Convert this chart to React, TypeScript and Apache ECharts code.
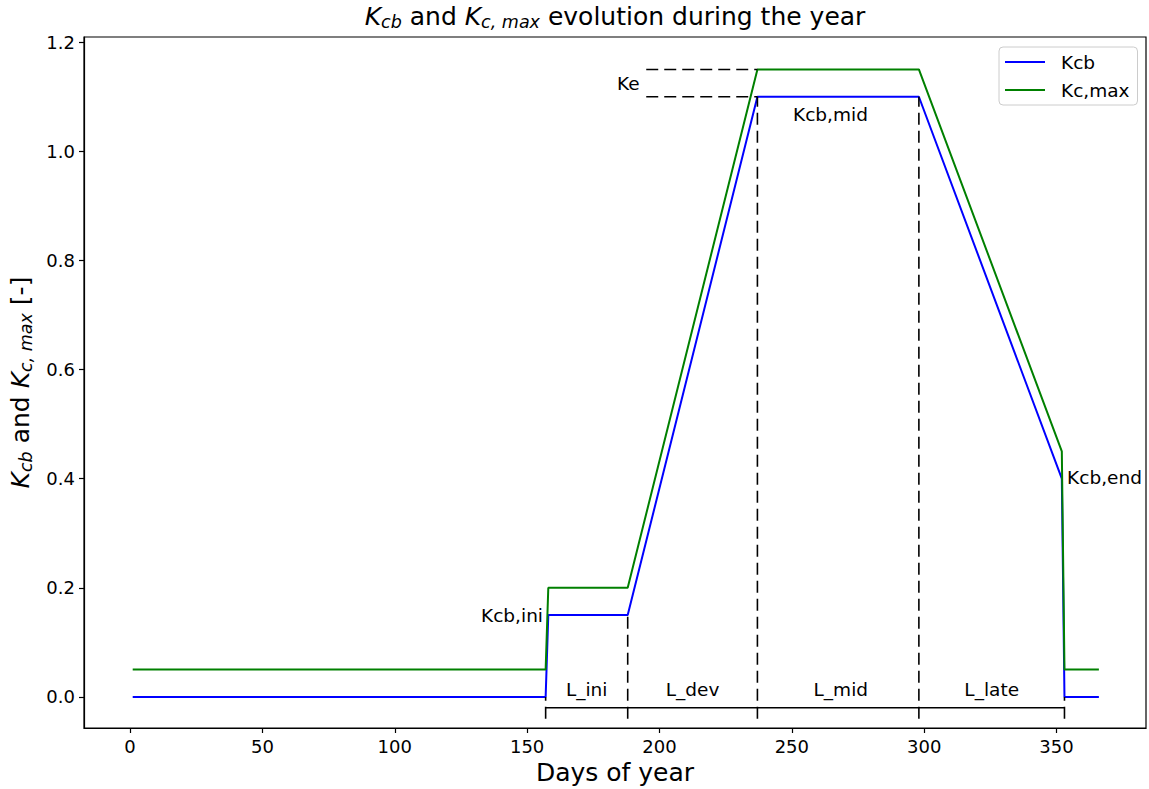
import React, { useEffect, useRef } from "react";
import * as echarts from "echarts";

// ---- data ----
const days = [1, 157, 158, 188, 237, 298, 352, 353, 366];
const kcbValues = [0, 0, 0.15, 0.15, 1.1, 1.1, 0.4, 0, 0];
const kcMaxValues = [0.05, 0.05, 0.2, 0.2, 1.15, 1.15, 0.45, 0.05, 0.05];

const stageDays = [157, 188, 237, 298, 353];
const stageKcb = [0, 0.15, 1.1, 1.1, 0];
const stageNames = ["L_ini", "L_dev", "L_mid", "L_late"];
const stageNameX = [172.5, 212.5, 268.5, 325.5];
const stageNameY = 0.013;
const stageBarY = -0.02;
const stageTickBottom = -0.04;

const keDays = [195, 237];
const keLevels = [1.1, 1.15];

const pointLabels = ["Kcb,ini", "Kcb,mid", "Kcb,end", "Ke"];
const pointLabelX = [156, 264.6, 354, 192.5];
const pointLabelY = [0.15, 1.068, 0.403, 1.125];
const pointLabelPos = ["left", "inside", "right", "left"];

const xTicks = [0, 50, 100, 150, 200, 250, 300, 350];
const yTicks = [0, 0.2, 0.4, 0.6, 0.8, 1.0, 1.2];

const FONT = "DejaVu Sans";

export default function App() {
  const ref = useRef<HTMLDivElement>(null);

  useEffect(() => {
    document.body.style.margin = "0";
    const chart = echarts.init(ref.current!, null, { renderer: "svg" });

    const dashed = { color: "#000", width: 1.6, type: [12, 6] as any };
    const solid = { color: "#000", width: 1.6 };

    const series: any[] = [
      {
        name: "Kcb",
        type: "line",
        data: days.map((d, i) => [d, kcbValues[i]]),
        showSymbol: false,
        lineStyle: { color: "#0000ff", width: 2 },
        itemStyle: { color: "#0000ff" },
        z: 2,
      },
      {
        name: "Kc,max",
        type: "line",
        data: days.map((d, i) => [d, kcMaxValues[i]]),
        showSymbol: false,
        lineStyle: { color: "#008000", width: 2 },
        itemStyle: { color: "#008000" },
        z: 2,
      },
      {
        type: "line",
        data: [
          [stageDays[0], stageBarY],
          [stageDays[stageDays.length - 1], stageBarY],
        ],
        showSymbol: false,
        silent: true,
        lineStyle: solid,
        z: 3,
      },
    ];

    stageDays.forEach((d, i) => {
      series.push({
        type: "line",
        data: [
          [d, stageTickBottom],
          [d, stageKcb[i]],
        ],
        showSymbol: false,
        silent: true,
        lineStyle: dashed,
        z: 3,
      });
    });

    keLevels.forEach((lv) => {
      series.push({
        type: "line",
        data: keDays.map((d) => [d, lv]),
        showSymbol: false,
        silent: true,
        lineStyle: dashed,
        z: 3,
      });
    });

    const textStyle = {
      fontFamily: FONT,
      fontSize: 18.5,
      color: "#000",
      opacity: 1,
      textBorderWidth: 0,
    };

    series.push({
      type: "scatter",
      symbolSize: 0,
      silent: true,
      z: 4,
      itemStyle: { opacity: 1, color: "#000" },
      data: [
        ...pointLabels.map((t, i) => ({
          value: [pointLabelX[i], pointLabelY[i]],
          label: {
            show: true,
            formatter: t,
            position: pointLabelPos[i],
            distance: 0,
            ...textStyle,
          },
        })),
        ...stageNames.map((t, i) => ({
          value: [stageNameX[i], stageNameY],
          label: {
            show: true,
            formatter: t,
            position: "inside",
            ...textStyle,
          },
        })),
      ],
    });

    const mainTok = (size: number) => ({
      fontFamily: FONT,
      fontSize: size,
      color: "#000",
      lineHeight: size * 1.2,
      verticalAlign: "middle",
    });
    const italTok = (size: number) => ({ ...mainTok(size), fontStyle: "italic" });
    const subTok = (size: number) => ({
      fontFamily: FONT,
      fontSize: size * 0.7,
      fontStyle: "italic",
      color: "#000",
      lineHeight: size * 1.2,
      verticalAlign: "middle",
      padding: [size * 0.48, 0, 0, 0],
    });

    const richFor = (size: number) => ({
      t: mainTok(size),
      k: italTok(size),
      s: subTok(size),
    });

    chart.setOption({
      animation: false,
      backgroundColor: "#fff",
      grid: {
        left: 84,
        right: 3,
        top: 37,
        bottom: 61,
        show: true,
        borderColor: "#000",
        borderWidth: 1.2,
        outerBoundsMode: "none",
        containLabel: false,
      },
      graphic: [
        {
          type: "text",
          x: 615,
          y: 16,
          style: {
            text: "{k|K}{s|cb}{t| and }{k|K}{s|c, max}{t| evolution during the year}",
            rich: richFor(25),
            align: "center",
            verticalAlign: "middle",
          },
        },
      ],
      legend: {
        data: ["Kcb", "Kc,max"],
        orient: "vertical",
        left: 999,
        top: 47,
        width: 138,
        padding: [5, 8, 5, 6],
        itemGap: 8,
        itemWidth: 40,
        itemHeight: 2,
        icon: "rect",
        borderColor: "#cccccc",
        borderWidth: 1,
        borderRadius: 4,
        backgroundColor: "#fff",
        textStyle: {
          fontFamily: FONT,
          fontSize: 18.5,
          color: "#000",
          padding: [0, 0, 0, 11],
          lineHeight: 20,
        },
      },
      xAxis: {
        type: "value",
        min: -17.4,
        max: 383.8,
        name: "Days of year",
        nameLocation: "middle",
        nameGap: 30,
        nameTextStyle: { fontFamily: FONT, fontSize: 25, color: "#000", verticalAlign: "top" },
        axisLine: { show: true, onZero: false, lineStyle: { color: "#000", width: 1.2 } },
        axisTick: {
          show: true,
          inside: false,
          length: 5,
          lineStyle: { color: "#000", width: 1.2 },
          customValues: xTicks,
        },
        axisLabel: {
          fontFamily: FONT,
          fontSize: 18,
          color: "#000",
          margin: 9,
          customValues: xTicks,
          formatter: (v: number) => String(v),
        },
        splitLine: { show: false },
      },
      yAxis: {
        type: "value",
        min: -0.057,
        max: 1.2095,
        name: "{k|K}{s|cb}{t| and }{k|K}{s|c, max}{t| [-]}",
        nameLocation: "middle",
        nameRotate: 90,
        nameGap: 46,
        nameTextStyle: { rich: richFor(25) },
        axisLine: { show: true, onZero: false, lineStyle: { color: "#000", width: 1.2 } },
        axisTick: {
          show: true,
          inside: false,
          length: 5,
          lineStyle: { color: "#000", width: 1.2 },
          customValues: yTicks,
        },
        axisLabel: {
          fontFamily: FONT,
          fontSize: 18,
          color: "#000",
          margin: 9,
          customValues: yTicks,
          formatter: (v: number) => v.toFixed(1),
        },
        splitLine: { show: false },
      },
      series,
    });

    return () => chart.dispose();
  }, []);

  return <div ref={ref} style={{ width: 1149, height: 789 }} />;
}
